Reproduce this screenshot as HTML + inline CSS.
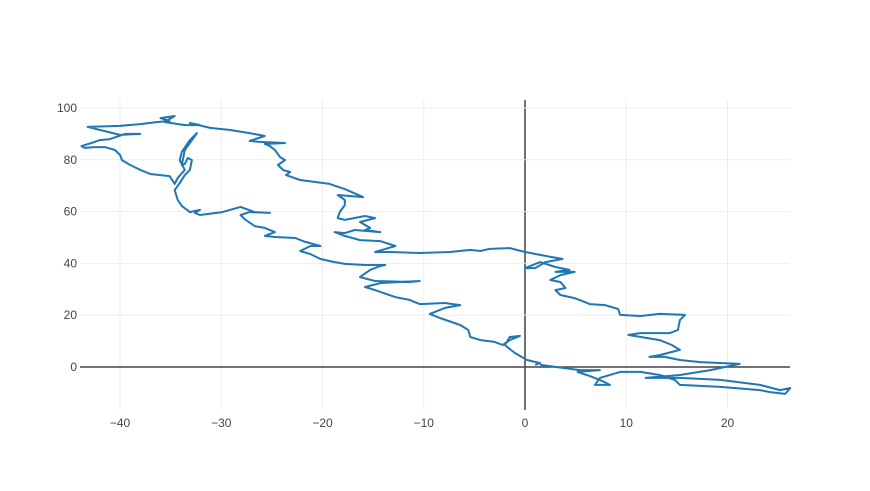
<!DOCTYPE html>
<html><head><meta charset="utf-8"><style>
body{margin:0;background:#fff;}
svg{display:block;font-family:"Liberation Sans",sans-serif;}
</style></head><body>
<svg id="chart" width="870" height="491" viewBox="0 0 870 491"></svg>
<script>
const xTicks=[-40,-30,-20,-10,0,10,20];
const yTicks=[0,20,40,60,80,100];
const walkX=[1.0,1.5,0.2,-1.0,-2.0,-1.5,-0.5,-1.5,-2.2,-3.0,-4.4,-5.4,-5.6,-6.4,-8.4,-9.4,-7.9,-6.4,-7.9,-10.4,-11.4,-12.8,-14.8,-15.8,-14.3,-12.3,-10.4,-11.4,-14.8,-16.3,-15.3,-14.3,-13.8,-15.8,-17.8,-18.8,-20.2,-21.2,-22.2,-21.2,-20.2,-21.7,-22.7,-24.7,-25.7,-24.7,-25.7,-26.7,-27.7,-28.1,-27.2,-25.2,-26.7,-28.1,-29.9,-32.1,-32.6,-32.1,-33.1,-33.9,-34.3,-34.6,-34.1,-33.6,-33.1,-32.9,-33.3,-33.6,-33.9,-33.6,-32.6,-32.4,-33.1,-33.9,-34.1,-33.6,-34.3,-34.6,-35.1,-36.0,-37.0,-38.0,-39.0,-39.8,-40.0,-40.5,-41.5,-42.5,-43.5,-43.8,-42.5,-42.0,-41.0,-39.5,-38.0,-40.0,
-43.2,-40.0,-38.0,-36.3,-35.1,-36.0,-34.6,-35.6,-33.6,-32.1,-33.1,-31.1,-29.1,-27.2,-25.7,-27.2,-26.2,-23.7,-25.7,-25.2,-24.7,-24.2,-23.7,-24.4,-23.9,-23.2,-23.6,-22.2,-19.3,-17.8,-16.0,-18.5,-17.8,-17.8,-18.3,-18.5,-17.8,-15.8,-14.8,-16.3,-15.3,-15.8,-14.3,-16.8,-17.8,-18.8,-17.8,-16.3,-14.3,-12.8,-14.8,-13.3,-10.4,-7.4,-5.4,-4.4,-3.5,-1.5,0.0,2.0,3.7,2.0,1.0,0.0,1.5,3.0,4.4,3.0,4.9,3.5,2.5,3.5,4.0,3.0,3.5,4.9,6.4,7.9,9.2,9.4,11.4,13.3,15.8,15.3,15.1,14.3,11.4,10.2,13.3,14.5,15.3,13.3,12.3,13.8,15.3,17.3,21.2,18.3,15.3,11.9,15.3,19.3,23.2,25.2,26.2,
25.7,24.2,23.2,19.3,15.3,14.8,13.3,11.4,9.4,7.4,6.9,8.4,7.4,6.4,5.2,7.4,5.4,1.5];
const walkY=[0.8,1.5,2.7,5.4,8.5,11.6,12.0,10.4,8.5,9.7,10.4,11.6,14.3,16.2,18.9,20.5,22.8,23.9,24.7,24.3,25.9,27.0,29.7,30.9,32.4,32.8,33.2,32.8,33.2,34.7,37.5,39.0,39.4,39.4,39.8,40.5,41.7,43.6,44.8,46.7,46.7,48.3,49.8,50.2,50.6,52.1,53.7,54.4,57.1,58.7,59.8,59.5,59.8,61.8,59.8,58.7,59.5,60.7,59.8,62.2,64.5,68.3,71.0,74.1,76.1,79.9,80.7,78.4,78.0,83.8,89.2,90.3,87.6,83.0,79.9,76.1,73.0,70.7,73.7,74.1,74.5,76.1,78.0,79.9,81.9,83.8,84.9,84.9,84.6,85.3,86.9,87.6,88.0,90.0,90.0,89.6,
92.7,93.1,93.8,94.6,95.0,96.1,96.9,94.6,93.4,93.4,94.2,92.3,91.5,90.3,89.2,87.3,86.9,86.5,86.1,85.3,83.8,81.1,79.9,78.0,76.1,75.3,74.1,72.2,70.7,68.7,65.6,66.4,64.5,62.5,59.8,57.5,56.8,58.3,57.5,56.0,53.7,52.9,52.1,52.9,51.7,52.1,50.6,49.0,48.6,46.7,44.4,44.4,44.0,44.4,45.2,44.8,45.6,45.9,44.4,42.9,41.7,40.5,38.2,38.2,40.5,38.6,37.5,36.7,36.7,35.5,33.6,32.8,30.5,29.7,27.8,26.6,24.3,23.9,22.4,20.1,19.7,20.5,20.1,18.1,14.3,13.1,13.1,12.4,10.4,8.5,6.6,4.6,3.9,3.9,2.7,1.9,1.2,-1.2,-3.1,-4.2,-4.2,-5.0,-6.9,-8.9,-8.1,
-10.4,-9.7,-8.9,-7.7,-6.9,-5.0,-3.1,-1.9,-1.9,-4.2,-6.9,-6.9,-5.0,-3.5,-1.9,-1.2,-1.2,0.8];

const NS='http://www.w3.org/2000/svg';
const svg=document.getElementById('chart');
const L=80,R=790,T=100,B=410;
const sx=v=>525+v*10.125;
const sy=v=>367-v*2.59;
function mk(tag,attrs){const e=document.createElementNS(NS,tag);for(const k in attrs)e.setAttribute(k,attrs[k]);svg.appendChild(e);return e;}
xTicks.forEach(t=>{
  const g=mk('line',{x1:sx(t),x2:sx(t),y1:T,y2:B,stroke:t===0?'#444':'#eee','stroke-width':t===0?1.5:1});
  
  
  const lb=mk('text',{x:sx(t),y:427,'text-anchor':'middle','font-size':12,fill:'#444'});
  lb.textContent=t<0?'\u2212'+Math.abs(t):String(t);
  
  
});
yTicks.forEach(t=>{
  const g=mk('line',{x1:L,x2:R,y1:sy(t),y2:sy(t),stroke:t===0?'#444':'#eee','stroke-width':t===0?1.5:1});
  
  
  const lb=mk('text',{x:77,y:sy(t)+4,'text-anchor':'end','font-size':12,fill:'#444'});
  lb.textContent=String(t);
  
  
});
let d='';
walkX.forEach((x,i)=>{d+=(i?'L':'M')+sx(x).toFixed(1)+','+sy(walkY[i]).toFixed(1);});
const p=mk('path',{d:d,fill:'none',stroke:'#1f77b4','stroke-width':2,'stroke-linejoin':'round'});


</script>
</body></html>
